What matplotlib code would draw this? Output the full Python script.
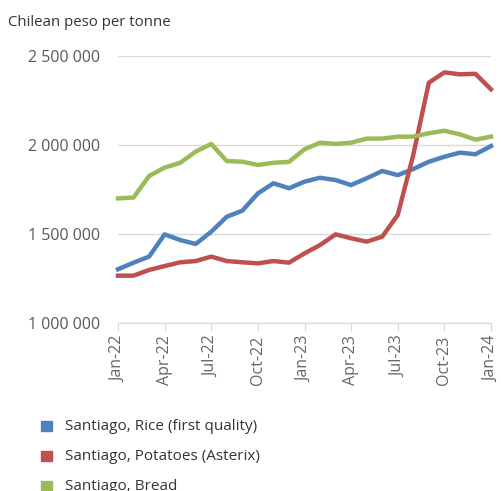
import numpy as np
import matplotlib
matplotlib.use("Agg")
import matplotlib.pyplot as plt
from matplotlib.patches import Rectangle

plt.rcParams['font.family'] = ['Open Sans', 'DejaVu Sans']

months = ["Jan-22", "Feb-22", "Mar-22", "Apr-22", "May-22", "Jun-22", "Jul-22",
          "Aug-22", "Sep-22", "Oct-22", "Nov-22", "Dec-22", "Jan-23", "Feb-23",
          "Mar-23", "Apr-23", "May-23", "Jun-23", "Jul-23", "Aug-23", "Sep-23",
          "Oct-23", "Nov-23", "Dec-23", "Jan-24"]

rice = [1302000, 1339000, 1373000, 1498000, 1466000, 1444000, 1513000, 1597000,
        1631000, 1728000, 1785000, 1757000, 1794000, 1816000, 1803000, 1775000,
        1813000, 1854000, 1831000, 1865000, 1906000, 1934000, 1957000, 1948000,
        1994000]
potatoes = [1266000, 1266000, 1298000, 1320000, 1341000, 1348000, 1373000, 1348000,
            1341000, 1335000, 1348000, 1339000, 1391000, 1438000, 1498000, 1476000,
            1457000, 1485000, 1607000, 1945000, 2350000, 2408000, 2397000, 2400000,
            2313000]
bread = [1700000, 1705000, 1826000, 1873000, 1900000, 1963000, 2006000, 1910000,
         1906000, 1888000, 1900000, 1905000, 1976000, 2013000, 2006000, 2013000,
         2036000, 2036000, 2047000, 2047000, 2066000, 2080000, 2060000, 2030000,
         2047000]

names = ["Santiago, Rice (first quality)", "Santiago, Potatoes (Asterix)", "Santiago, Bread"]
colors = ["#4f81bd", "#c0504d", "#9bbb59"]
yticks = [1000000, 1500000, 2000000, 2500000]

W, H = 501, 491
fig = plt.figure(figsize=(W / 100, H / 100), dpi=100)
ax = fig.add_axes([118 / W, 1 - 323 / H, (491 - 118) / W, (323 - 56) / H])

x = np.arange(len(months))
for series, col in zip([rice, potatoes, bread], colors):
    ax.plot(x, series, color=col, lw=3.2, solid_joinstyle="round", clip_on=False, zorder=3)

ax.set_xlim(0, len(months) - 1)
ax.set_ylim(1000000, 2500000)
ax.set_yticks(yticks)
ax.set_yticklabels(["{:,}".format(v).replace(",", " ") for v in yticks])
ax.set_xticks(x[::3])
ax.set_xticklabels(months[::3], rotation=90)
ax.grid(axis="y", color="#d9d9d9", lw=1)
ax.set_axisbelow(True)
for s in ["top", "right", "left"]:
    ax.spines[s].set_visible(False)
ax.spines["bottom"].set_color("#d9d9d9")
ax.tick_params(axis="y", length=0, pad=13, labelsize=11.5, labelcolor="#595959")
ax.tick_params(axis="x", length=6, color="#d9d9d9", pad=3, labelsize=11.5, labelcolor="#666666")

fig.text(8 / W, 1 - 22 / H, "Chilean peso per tonne", fontsize=10.8, color="#333333", va="center")

for i, (name, col) in enumerate(zip(names, colors)):
    yc = 426 + 30 * i
    fig.patches.append(Rectangle((41 / W, 1 - (yc + 5) / H), 11 / W, 10 / H,
                                 transform=fig.transFigure, color=col))
    fig.text(65 / W, 1 - yc / H, name, fontsize=11, color="#333333", va="center")

fig.savefig("out.png", dpi=100)
